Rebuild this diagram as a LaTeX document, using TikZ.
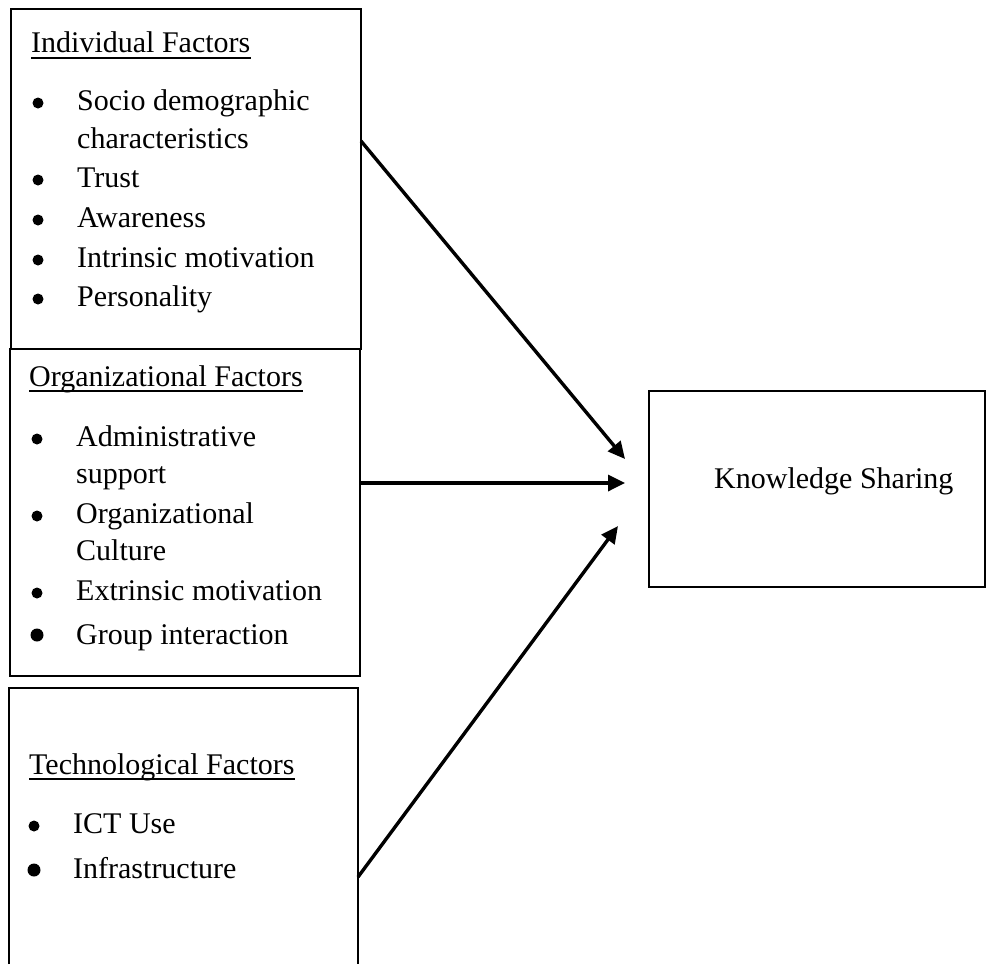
\documentclass[tikz,border=0pt]{standalone}
\usepackage{fontspec}
\setmainfont{Liberation Serif}
\usetikzlibrary{arrows.meta}
\begin{document}
\begin{tikzpicture}[x=1pt,y=-1pt,
  boxline/.style={line width=2pt},
  txt/.style={anchor=base west,inner sep=0pt,font=\fontsize{30}{36}\selectfont},
  bul/.style={circle,fill=black,inner sep=0pt,minimum size=11pt},
  bigbul/.style={circle,fill=black,inner sep=0pt,minimum size=13pt},
  ul/.style={line width=1.6pt},
  arr/.style={line width=3.4pt,-{Triangle[length=17pt,width=16pt]}}]
\useasboundingbox[fill=white] (0,0) rectangle (987,964);
% boxes
\draw[boxline] (11,9) rectangle (361,349);
\draw[boxline] (10,349) rectangle (360,676);
\draw[boxline] (9,964) -- (9,688) -- (358,688) -- (358,964);
\draw[boxline] (649,391) rectangle (985,587);
% Individual
\node[txt] (t1) at (31,52) {Individual Factors};
\draw[ul] ([yshift=-6pt]t1.base west) -- ([yshift=-6pt]t1.base east);
\node[bul] (b11) at (38,103) {};
\node[txt] (i11) at (77,110) {Socio demographic};
\node[txt] (i12) at (77,148) {characteristics};
\node[bul] (b12) at (38,180) {};
\node[txt] (i13) at (77,187) {Trust};
\node[bul] (b13) at (38,220) {};
\node[txt] (i14) at (77,227) {Awareness};
\node[bul] (b14) at (38,260) {};
\node[txt] (i15) at (77,267) {Intrinsic motivation};
\node[bul] (b15) at (38,299) {};
\node[txt] (i16) at (77,306) {Personality};
% Organizational
\node[txt] (t2) at (29,386) {Organizational Factors};
\draw[ul] ([yshift=-5pt]t2.base west) -- ([yshift=-5pt]t2.base east);
\node[bul] (b21) at (37,439) {};
\node[txt] (o21) at (76,446) {Administrative};
\node[txt] (o22) at (76,483) {support};
\node[bul] (b22) at (37,516) {};
\node[txt] (o23) at (76,523) {Organizational};
\node[txt] (o24) at (76,560) {Culture};
\node[bul] (b23) at (37,593) {};
\node[txt] (o25) at (76,600) {Extrinsic motivation};
\node[bigbul] (b24) at (37,635) {};
\node[txt] (o26) at (76,644) {Group interaction};
% Technological
\node[txt] (t3) at (29,774) {Technological Factors};
\draw[ul] ([yshift=-5pt]t3.base west) -- ([yshift=-5pt]t3.base east);
\node[bul] (b31) at (34,826) {};
\node[txt] (c31) at (73,833) {ICT Use};
\node[bigbul] (b32) at (34,870) {};
\node[txt] (c32) at (73,878) {Infrastructure};
% Knowledge sharing
\node[txt] (ks) at (714,488) {Knowledge Sharing};
% arrows
\coordinate (s1) at (361,141);
\coordinate (s2) at (360,483);
\coordinate (s3) at (358,877);
\coordinate (e1) at (625,459);
\coordinate (e2) at (625,483);
\coordinate (e3) at (618,526);
\draw[arr] (s1) -- (e1);
\draw[arr] (s2) -- (e2);
\draw[arr] (s3) -- (e3);
\end{tikzpicture}
\end{document}
